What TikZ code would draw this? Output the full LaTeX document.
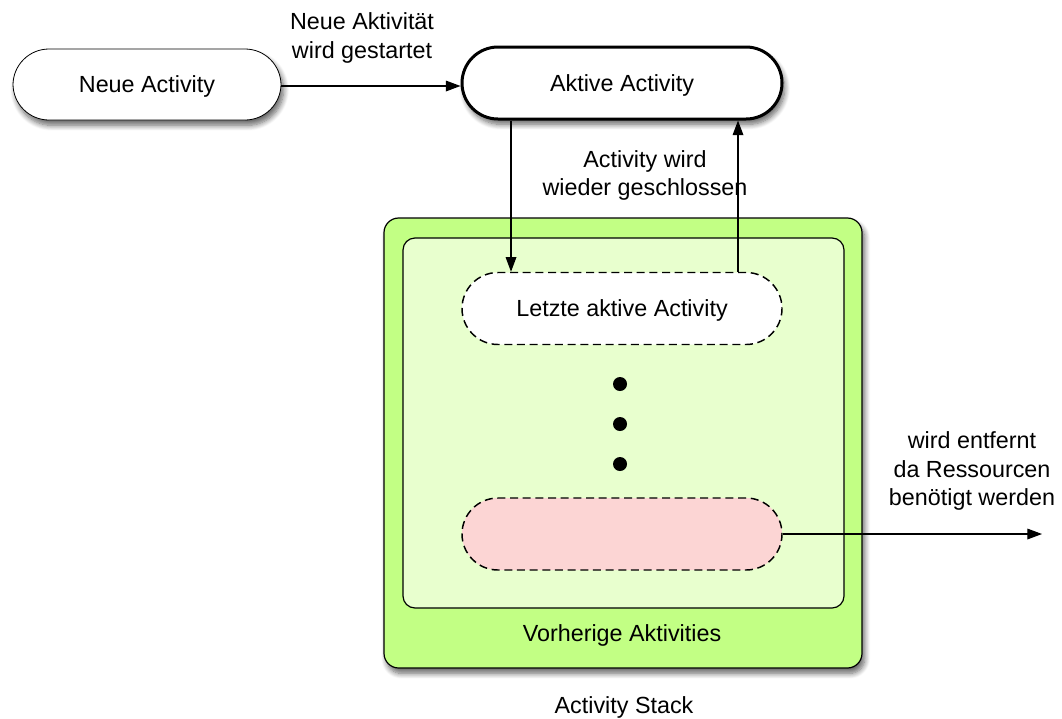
\documentclass[tikz,border=0pt]{standalone}
\usepackage{fontspec}
\setmainfont{Liberation Sans}
\usetikzlibrary{arrows.meta,shadows.blur,calc}
\definecolor{outergreen}{HTML}{C2FF84}
\definecolor{innergreen}{HTML}{E8FFCE}
\definecolor{pinkfill}{HTML}{FCD5D4}
\begin{document}
\begin{tikzpicture}[x=0.75pt,y=-0.75pt,
  every node/.style={font=\fontsize{17.5}{21.5}\selectfont},
  shad/.style={blur shadow={shadow xshift=2pt,shadow yshift=-4pt,shadow blur steps=8,shadow blur radius=4pt,shadow opacity=60}},
  pill/.style={draw,fill=white,minimum width=240pt,minimum height=54pt,rounded corners=27pt,inner sep=0pt,text depth=0pt},
  arr/.style={-{Triangle[length=11pt,width=8pt]},line width=0.9pt},
  lbl/.style={align=center,inner sep=0pt},
  dsh/.style={line width=1.1pt,dash pattern=on 6pt off 3.5pt},
  dot/.style={circle,fill=black,minimum size=10.5pt,inner sep=0pt}]
\useasboundingbox (0,0) rectangle (1062,718);
% stack boxes
\node[draw,line width=0.9pt,fill=outergreen,rounded corners=11pt,minimum width=358.5pt,minimum height=337.5pt,shad] (outer) at (623,443) {};
\node[draw,line width=0.9pt,fill=innergreen,rounded corners=9pt,minimum width=330.75pt,minimum height=277.5pt] (inner) at (623.5,423) {};
% nodes
\node[pill,minimum width=201pt,minimum height=53.25pt,line width=0.6pt,shad] (neue) at (147,84.5) {Neue Activity};
\node[pill,line width=2.25pt,shad] (aktive) at (622,83) {Aktive Activity};
\node[pill,dsh] (letzte) at (622,308.5) {Letzte aktive Activity};
\node[pill,dsh,fill=pinkfill] (pink) at (622,534) {};
\node[dot] (d1) at (620,384) {};
\node[dot] (d2) at (620,424) {};
\node[dot] (d3) at (620,464) {};
% labels
\node[lbl] (l1) at (362,38) {Neue Aktivität\\wird gestartet};
\node[lbl] (l2) at (645,175.5) {Activity wird\\wieder geschlossen};
\node[lbl] (l3) at (972,471) {wird entfernt\\da Ressourcen\\benötigt werden};
\node[lbl] (l4) at (622,635) {Vorherige Aktivities};
\node[lbl] (l5) at (624,707) {Activity Stack};
% connectors
\coordinate (xd) at (511,0);
\coordinate (xu) at (738,0);
\coordinate (rend) at (1042,534);
\draw[arr] ($(neue.east)+(0,1.5)$) -- ($(neue.east -| aktive.west)+(0,1.5)$);
\draw[arr] (aktive.south -| xd) -- (letzte.north -| xd);
\draw[arr] (letzte.north -| xu) -- (aktive.south -| xu);
\draw[arr] (pink.east) -- (rend);
\end{tikzpicture}
\end{document}
